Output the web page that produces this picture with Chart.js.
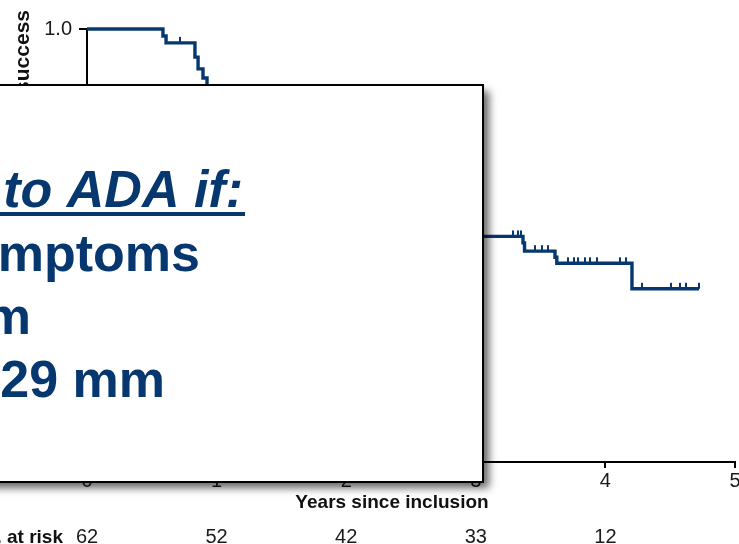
<!DOCTYPE html>
<html>
<head>
<meta charset="utf-8">
<script src="https://cdn.jsdelivr.net/npm/chart.js@4/dist/chart.umd.min.js"></script>
<style>
  html, body { margin: 0; padding: 0; background: #ffffff; }
  #wrap { width: 739px; height: 544px; }
</style>
</head>
<body>
<div id="wrap"><canvas id="km" width="739" height="544"></canvas></div>
<script>
// Kaplan–Meier curve: step times (years since inclusion) and survival after each step
const eventYears = [0, 0.586, 0.61, 0.833, 0.857, 0.895, 0.926, 2.0, 3.364, 3.376, 3.611, 3.625, 4.205, 4.722];
const survival   = [1.0, 0.984, 0.968, 0.935, 0.908, 0.887, 0.866, 0.521, 0.506, 0.487, 0.473, 0.459, 0.400, 0.400];

// Censored observations (years since inclusion)
const censoredYears = [0.718, 3.287, 3.326, 3.349, 3.457, 3.511, 3.557, 3.711, 3.758, 3.789,
                       3.843, 3.881, 3.935, 4.113, 4.159, 4.282, 4.506, 4.576, 4.622, 4.722];

// Axis ticks and the number-at-risk row
const yearTicks = [0, 1, 2, 3, 4, 5];
const survivalTicks = [0, 0.2, 0.4, 0.6, 0.8, 1.0];
const numberAtRisk = [62, 52, 42, 33, 12];

// Texts
const yTitle = 'Probability of success';
const xTitle = 'Years since inclusion';
const riskLabel = 'No. at risk';
const calloutLines = [' to ADA if:', 'mptoms', 'm', '29 mm'];

const NAVY = '#07376f';
const FONT = '"Liberation Sans", Arial, Helvetica, sans-serif';

// survival value in force at time t (step function)
function survivalAt(t) {
  let s = survival[0];
  for (let i = 0; i < eventYears.length; i++) {
    if (eventYears[i] <= t) s = survival[i];
  }
  return s;
}

// censor mark: short vertical tick rising above the curve
function makeCensorMark() {
  const c = document.createElement('canvas');
  c.width = 2; c.height = 14;
  const g = c.getContext('2d');
  g.fillStyle = NAVY;
  g.fillRect(0, 1, 2, 6);
  return c;
}
const censorMark = makeCensorMark();

const annotations = {
  id: 'annotations',
  afterDraw(chart) {
    const ctx = chart.ctx;
    const x = chart.scales.x;

    // rotated y-axis title
    ctx.save();
    ctx.font = 'bold 21px ' + FONT;
    ctx.fillStyle = '#111111';
    ctx.translate(29, 10);
    ctx.rotate(-Math.PI / 2);
    ctx.textAlign = 'right';
    ctx.textBaseline = 'alphabetic';
    ctx.fillText(yTitle, 0, 0);
    ctx.restore();

    // x-axis title
    ctx.save();
    ctx.font = 'bold 19px ' + FONT;
    ctx.fillStyle = '#111111';
    ctx.textAlign = 'center';
    ctx.textBaseline = 'alphabetic';
    ctx.fillText(xTitle, 392, 508);

    // number at risk row
    ctx.textAlign = 'right';
    ctx.fillText(riskLabel, 63, 543);
    ctx.font = '20px ' + FONT;
    ctx.fillStyle = '#1a1a1a';
    ctx.textAlign = 'center';
    numberAtRisk.forEach((n, i) => {
      ctx.fillText(String(n), x.getPixelForValue(yearTicks[i]), 543);
    });
    ctx.restore();

    // callout box with drop shadow
    ctx.save();
    const bx = -20, by = 85, bw = 503, bh = 397;
    ctx.shadowColor = 'rgba(0,0,0,0.6)';
    ctx.shadowBlur = 8;
    ctx.shadowOffsetX = 6;
    ctx.shadowOffsetY = 6;
    ctx.fillStyle = '#ffffff';
    ctx.fillRect(bx, by, bw, bh);
    ctx.shadowColor = 'rgba(0,0,0,0)';
    ctx.strokeStyle = '#000000';
    ctx.lineWidth = 2;
    ctx.strokeRect(bx, by, bw, bh);

    ctx.fillStyle = NAVY;
    ctx.textAlign = 'right';
    ctx.textBaseline = 'alphabetic';
    ctx.font = 'italic bold 52px ' + FONT;
    ctx.fillText(calloutLines[0], 243, 207);
    ctx.fillRect(-10, 212, 255, 4);
    ctx.font = 'bold 52px ' + FONT;
    ctx.fillText(calloutLines[1], 200, 271);
    ctx.fillText(calloutLines[2], 31, 334);
    ctx.fillText(calloutLines[3], 165, 397);
    ctx.restore();
  }
};

new Chart(document.getElementById('km'), {
  type: 'line',
  data: {
    datasets: [
      {
        data: eventYears.map((t, i) => ({ x: t, y: survival[i] })),
        borderColor: NAVY,
        borderWidth: 3.4,
        stepped: 'before',
        pointRadius: 0,
        fill: false,
        clip: false,
        borderJoinStyle: 'miter',
        borderCapStyle: 'butt'
      },
      {
        type: 'scatter',
        data: censoredYears.map(t => ({ x: t, y: survivalAt(t) })),
        pointStyle: censorMark,
        pointRadius: 7,
        clip: false,
        showLine: false
      }
    ]
  },
  options: {
    responsive: false,
    animation: false,
    devicePixelRatio: 1,
    layout: { autoPadding: false, padding: { top: 29, right: 4, left: 0, bottom: 0 } },
    plugins: { legend: { display: false }, tooltip: { enabled: false } },
    scales: {
      x: {
        type: 'linear',
        min: 0, max: 5,
        afterBuildTicks: s => { s.ticks = yearTicks.map(v => ({ value: v })); },
        afterFit: s => { s.height = 82; s.paddingLeft = 0; s.paddingRight = 0; },
        border: { color: '#000000', width: 2 },
        grid: { drawOnChartArea: false, color: '#000000', lineWidth: 2, tickLength: 6 },
        ticks: { color: '#1a1a1a', font: { family: FONT, size: 20 }, padding: 1, maxRotation: 0 }
      },
      y: {
        type: 'linear',
        min: 0, max: 1,
        afterBuildTicks: s => { s.ticks = survivalTicks.map(v => ({ value: v })); },
        afterFit: s => { s.width = 87; },
        border: { color: '#000000', width: 2 },
        grid: { drawOnChartArea: false, color: '#000000', lineWidth: 2, tickLength: 8 },
        ticks: { color: '#1a1a1a', font: { family: FONT, size: 20 }, padding: 7,
                 callback: v => Number(v).toFixed(1) }
      }
    }
  },
  plugins: [annotations]
});
</script>
</body>
</html>
